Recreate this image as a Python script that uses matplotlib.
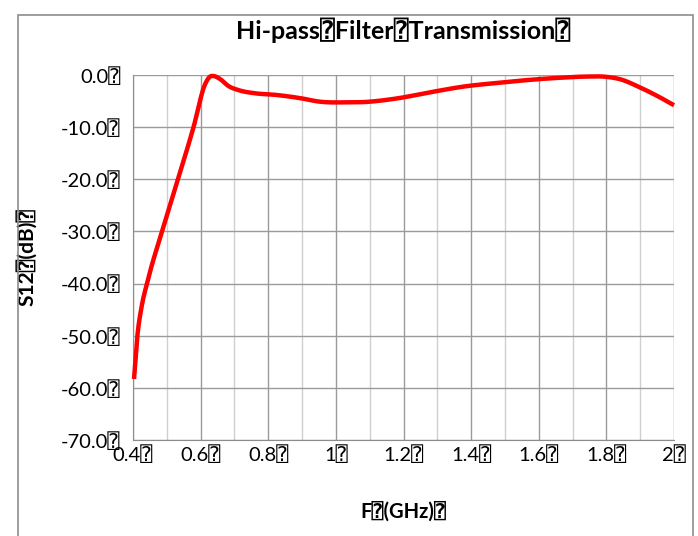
import matplotlib
matplotlib.use("Agg")
import matplotlib.pyplot as plt
import numpy as np
from matplotlib.patches import Rectangle

BOX = "\u2370"

# data
freq_ghz = [0.403, 0.413, 0.425, 0.442, 0.486, 0.533, 0.579,
            0.613, 0.628, 0.638, 0.658, 0.682, 0.712, 0.76, 0.82, 0.90,
            0.95, 1.03, 1.08, 1.18, 1.28, 1.38, 1.48, 1.57, 1.67, 1.74, 1.80,
            1.84, 1.90, 1.95, 2.00]
s12_db = [-58.3, -50.0, -44.6, -39.8, -30.0, -20.0, -10.0,
          -1.8, -0.3, -0.2, -0.8, -2.1, -2.9, -3.5, -3.8, -4.5,
          -5.1, -5.25, -5.2, -4.5, -3.3, -2.2, -1.5, -0.95, -0.5, -0.3, -0.35,
          -0.8, -2.4, -4.0, -5.8]
x_ticks = [0.4, 0.6, 0.8, 1.0, 1.2, 1.4, 1.6, 1.8, 2.0]
x_tick_labels = ["0.4", "0.6", "0.8", "1", "1.2", "1.4", "1.6", "1.8", "2"]
y_ticks = [0, -10, -20, -30, -40, -50, -60, -70]
title = "Hi-pass" + BOX + "Filter" + BOX + "Transmission" + BOX
x_label = "F" + BOX + "(GHz)" + BOX
y_label = "S12" + BOX + "(dB)" + BOX


def smooth_curve(x, y, n=20):
    # cubic Hermite through the points, slopes from the neighbours
    x = np.asarray(x, float)
    y = np.asarray(y, float)
    h = np.diff(x)
    sec = np.diff(y) / h
    d = np.empty_like(y)
    d[0], d[-1] = sec[0], sec[-1]
    d[1:-1] = (h[:-1] * sec[1:] + h[1:] * sec[:-1]) / (h[:-1] + h[1:])
    xs, ys = [], []
    t = np.linspace(0, 1, n, endpoint=False)
    for i in range(len(h)):
        h00 = 2 * t ** 3 - 3 * t ** 2 + 1
        h10 = t ** 3 - 2 * t ** 2 + t
        h01 = -2 * t ** 3 + 3 * t ** 2
        h11 = t ** 3 - t ** 2
        xs.extend(x[i] + t * h[i])
        ys.extend(h00 * y[i] + h10 * h[i] * d[i] + h01 * y[i + 1] + h11 * h[i] * d[i + 1])
    xs.append(x[-1])
    ys.append(y[-1])
    return np.array(xs), np.array(ys)


fam = ["Lato", "DejaVu Sans", "DejaVu Sans Mono"]
plt.rcParams["font.family"] = fam

fig = plt.figure(figsize=(6.98, 5.36), dpi=100)
ax = fig.add_axes([133 / 698, 1 - 440 / 536, 541 / 698, 365 / 536])

# outer chart frame
fig.patches.append(Rectangle((18 / 698, -0.1), 675 / 698, 1.1 - 15 / 536,
                             transform=fig.transFigure, fill=False,
                             edgecolor="#8c8c8c", linewidth=1.2))

ax.set_xlim(0.4, 2.0)
ax.set_ylim(-70, 0)
ax.set_xticks(x_ticks)
ax.set_xticks(np.arange(0.5, 2.0, 0.2), minor=True)
ax.set_xticklabels([s + BOX for s in x_tick_labels], fontsize=14.5)
ax.set_yticks(y_ticks)
ax.set_yticklabels(["%.1f" % v + BOX for v in y_ticks], fontsize=14.5)
ax.tick_params(which="both", length=0)
ax.tick_params(axis="x", pad=3.5)
ax.tick_params(axis="y", pad=9)

ax.grid(which="major", color="#9a9a9a", linewidth=1.0)
ax.grid(which="minor", axis="x", color="#cfcfcf", linewidth=1.0)
ax.set_axisbelow(True)
for side in ["top", "right"]:
    ax.spines[side].set_visible(False)
for side in ["left", "bottom"]:
    ax.spines[side].set_color("#8c8c8c")

sx, sy = smooth_curve(freq_ghz, s12_db)
ax.plot(sx, sy, color="#ff0000", linewidth=3.2, solid_capstyle="butt",
        clip_on=False, zorder=3)

ax.set_title(title, fontsize=18, fontweight="bold", pad=26)
ax.set_xlabel(x_label, fontsize=14.5, fontweight="bold", labelpad=27)
ax.set_ylabel(y_label, fontsize=15, fontweight="bold", labelpad=17)

fig.savefig("out.png", dpi=100)
